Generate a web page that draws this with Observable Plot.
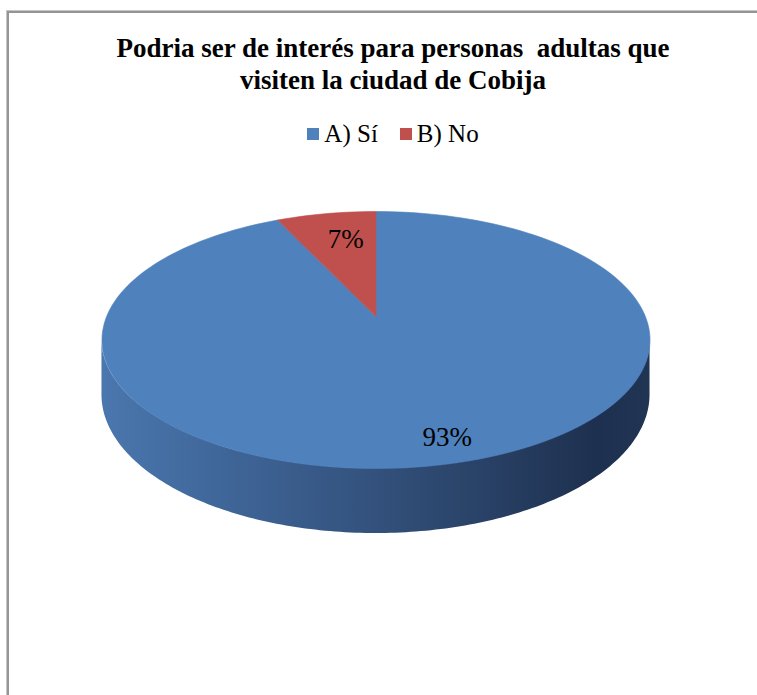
<!DOCTYPE html>
<html>
<head>
<meta charset="utf-8">
<script src="https://cdn.jsdelivr.net/npm/d3@7"></script>
<script src="https://cdn.jsdelivr.net/npm/@observablehq/plot@0.6"></script>
<style>
  html, body { margin: 0; padding: 0; background: #fff; }
  #chart { position: absolute; left: 0; top: 0; }
  #frame { position: absolute; left: 6px; top: 10px; width: 1000px; height: 1000px;
           border: 1px solid #c6c6c6; box-shadow: inset 0 0 0 2px #959595; box-sizing: border-box; }
  #title { position: absolute; left: 8px; width: 770px; top: 32px; text-align: center;
           font-family: "Liberation Serif", "Times New Roman", Times, serif;
           font-weight: bold; font-size: 27px; line-height: 32px; color: #000; }
  #legend { position: absolute; left: 8px; width: 770px; top: 120px; display: flex; justify-content: center;
            align-items: center; font-family: "Liberation Serif", "Times New Roman", Times, serif;
            font-size: 25px; color: #000; }
  .item { display: flex; align-items: center; margin: 0 11px; }
  .sw { width: 12px; height: 12px; margin-right: 5px; }
</style>
</head>
<body>
<div id="chart"></div>
<div id="frame"></div>
<div id="title">Podria ser de interés para personas&nbsp; adultas que<br>visiten la ciudad de Cobija</div>
<div id="legend"></div>
<script>
// ---- data ----
const categories = ["A) Sí", "B) No"];
const values = [93, 7];
const labels = ["93%", "7%"];
const colors = ["#4f81bd", "#c0504d"];

// ---- 3D pie view parameters ----
const K = 0.183;   // perspective strength
const H = 0.4275;  // thickness of the pie (in radius units)
const N = 180;
const SERIF = '"Liberation Serif", "Times New Roman", Times, serif';

function proj(r, phi, drop) {
  const u = r * Math.sin(phi), v = -r * Math.cos(phi);
  const w = 1 - K * v;
  return {x: u / w, y: (v + (drop || 0)) / w};
}

const total = d3.sum(values);
let cum = 0;
const slices = categories.map((c, i) => {
  const a0 = 2 * Math.PI * cum / total;
  cum += values[i];
  const a1 = 2 * Math.PI * cum / total;
  return {cat: c, label: labels[i], a0, a1};
});

const topPts = [];
for (const s of slices) {
  topPts.push({cat: s.cat, ...proj(0, 0)});
  const n = Math.max(4, Math.ceil(N * (s.a1 - s.a0) / (2 * Math.PI)));
  for (let j = 0; j <= n; j++) {
    const a = s.a0 + (s.a1 - s.a0) * j / n;
    topPts.push({cat: s.cat, ...proj(1, a)});
  }
  topPts.push({cat: s.cat, ...proj(0, 0)});
}

const t0 = Math.acos(-K), t1 = 2 * Math.PI - Math.acos(-K);
const sidePts = d3.range(N + 1).map(j => {
  const a = t0 + (t1 - t0) * j / N;
  const p = proj(1, a), q = proj(1, a, H);
  return {x: p.x, y1: p.y, y2: q.y};
});

const labelPts = slices.map(s => ({cat: s.cat, label: s.label, ...proj(0.78, (s.a0 + s.a1) / 2)}));

const cx = 375.5, cy = 316, ax = 269.4, ay = 124.2;

const plot = Plot.plot({
  width: 757,
  height: 695,
  margin: 0,
  style: {background: "none", overflow: "visible"},
  x: {domain: [-1, 1], range: [cx - ax, cx + ax], axis: null},
  y: {domain: [-1, 1], range: [cy - ay, cy + ay], axis: null},
  color: {domain: categories, range: colors},
  marks: [
    Plot.areaY(sidePts, {x: "x", y1: "y1", y2: "y2", fill: "url(#sideGrad)"}),
    Plot.line(topPts, {x: "x", y: "y", z: "cat", fill: "cat", stroke: "cat", strokeWidth: 0.6}),
    Plot.text(labelPts.filter(d => d.cat === categories[0]), {x: "x", y: "y", text: "label", dx: 18, dy: 11,
      fontSize: 27, fontFamily: SERIF, fill: "#000"}),
    Plot.text(labelPts.filter(d => d.cat === categories[1]), {x: "x", y: "y", text: "label", dx: 10, dy: 6,
      fontSize: 27, fontFamily: SERIF, fill: "#000"})
  ]
});

d3.select(plot).insert("defs", ":first-child").html(
  `<linearGradient id="sideGrad" x1="0" y1="0" x2="1" y2="0">
     <stop offset="0" stop-color="#4a77ae"/>
     <stop offset="0.25" stop-color="#3e6496"/>
     <stop offset="0.5" stop-color="#33517c"/>
     <stop offset="0.75" stop-color="#263d60"/>
     <stop offset="0.9" stop-color="#1e304f"/>
     <stop offset="1" stop-color="#203453"/>
   </linearGradient>`);

document.getElementById("chart").appendChild(plot);

const leg = d3.select("#legend");
categories.forEach((c, i) => {
  const it = leg.append("div").attr("class", "item");
  it.append("div").attr("class", "sw").style("background", colors[i]);
  it.append("span").text(c);
});
</script>
</body>
</html>
